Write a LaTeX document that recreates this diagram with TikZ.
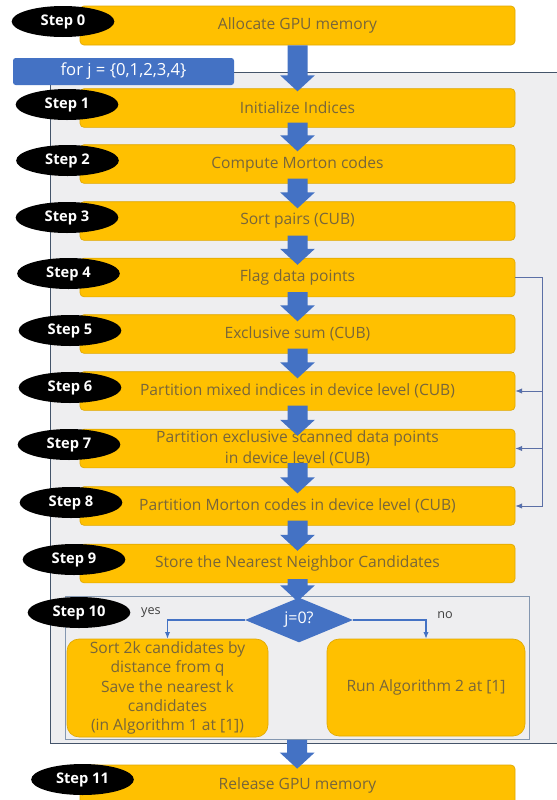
\documentclass[tikz,border=0pt]{standalone}
\usepackage{fontspec}
\setmainfont{Open Sans}
\usetikzlibrary{arrows.meta,calc,shapes.geometric}
\definecolor{gold}{HTML}{FFC000}
\definecolor{goldline}{HTML}{E0A800}
\definecolor{goldtext}{RGB}{120,102,58}
\definecolor{officeblue}{HTML}{4472C4}
\definecolor{loopgray}{HTML}{EEEEF0}
\definecolor{loopline}{HTML}{44546A}
\definecolor{innerline}{HTML}{8497B0}
\definecolor{fbline}{HTML}{5B6FA6}
\newcommand{\blockarr}[2]{%
  \fill[officeblue] let \p1=#1, \p2=#2 in
    (\x1-7.5pt,\y1) -- (\x1+7.5pt,\y1) -- (\x1+7.5pt,\y2+12pt) -- (\x1+13pt,\y2+12pt)
    -- (\x1,\y2) -- (\x1-13pt,\y2+12pt) -- (\x1-7.5pt,\y2+12pt) -- cycle;}
\begin{document}
\begin{tikzpicture}[x=0.75pt,y=-0.75pt,
  every node/.style={inner sep=0pt},
  bar/.style={draw=goldline, line width=0.5pt, fill=gold, rounded corners=3pt,
    minimum width=326.25pt, minimum height=29pt, text=goldtext, align=center,
    font=\fontsize{11.7}{15.5}\selectfont},
  stepl/.style={ellipse, fill=black, minimum width=77pt, minimum height=23.25pt,
    text=white, font=\fontsize{11}{13}\selectfont\bfseries},
  rbox/.style={draw=goldline, line width=0.5pt, fill=gold, rounded corners=9pt,
    text=goldtext, align=center, font=\fontsize{11.7}{14.5}\selectfont},
  forbox/.style={fill=officeblue, rounded corners=2pt, minimum width=165.75pt,
    minimum height=20.25pt, text=white, font=\fontsize{12.5}{15}\selectfont},
  decision/.style={diamond, fill=officeblue, minimum width=81pt, minimum height=33pt,
    text=white, font=\fontsize{12}{14}\selectfont},
  ynline/.style={draw=officeblue, line width=0.8pt, -{Latex[length=5pt,width=4pt]}},
  fb/.style={draw=fbline, line width=0.7pt, -{Latex[length=5pt,width=4pt,fill=officeblue]}},
  lbl/.style={text=black!75, font=\fontsize{9.5}{11}\selectfont}
]
\useasboundingbox (0,0) rectangle (557,800);
\fill[white] (0,0) rectangle (557,800);

% loop region
\fill[loopgray] (50,72) rectangle (557,743);
\draw[loopline, line width=0.6pt] (234,72) -- (557,72);
\draw[loopline, line width=0.6pt] (50,85) -- (50,743) -- (557,743);
\node[forbox] (fj) at (123.5,71.5) {for j = \{0,1,2,3,4\}};

% bars
\node[bar, minimum height=29.25pt] (s0) at (297.5,25.5) {Allocate GPU memory};
\node[bar] (s1) at (297.5,108) {Initialize Indices};
\node[bar] (s2) at (297.5,164) {Compute Morton codes};
\node[bar] (s3) at (297.5,221) {Sort pairs (CUB)};
\node[bar] (s4) at (297.5,277.5) {Flag data points};
\node[bar] (s5) at (297.5,334) {Exclusive sum (CUB)};
\node[bar] (s6) at (297.5,391) {Partition mixed indices in device level (CUB)};
\node[bar] (s7) at (297.5,448.5) {Partition exclusive scanned data points\\in device level (CUB)};
\node[bar] (s8) at (297.5,506) {Partition Morton codes in device level (CUB)};
\node[bar] (s9) at (297.5,563.5) {Store the Nearest Neighbor Candidates};
\node[bar, minimum height=30pt] (s11) at (297.5,785) {Release GPU memory};

% step 10 block
\node[draw=innerline, fill=loopgray, line width=0.7pt, minimum width=348.2pt,
  minimum height=107.5pt] (ib) at (297.2,667.7) {};
\node[rbox, minimum width=150.75pt, minimum height=73.5pt] (lb) at (167.5,688)
  {Sort 2k candidates by\\distance from q\\Save the nearest k\\candidates\\(in Algorithm 1 at [1])};
\node[rbox, minimum width=148.5pt, minimum height=72.75pt] (rb) at (426,687.5)
  {Run Algorithm 2 at [1]};
\node[decision] (dm) at (299,620) {j=0?};
\draw[ynline] (dm.west) -| (lb.north);
\draw[ynline] (dm.east) -| (rb.north);
\node[lbl] (yes) at (151,613) {yes};
\node[lbl] (no) at (445,615) {no};

% step labels
\node[stepl] (e0) at (63,21.5) {Step 0};
\node[stepl] (e1) at (67,104.5) {Step 1};
\node[stepl] (e2) at (67.5,160.5) {Step 2};
\node[stepl] (e3) at (67,217.5) {Step 3};
\node[stepl] (e4) at (68.5,273.5) {Step 4};
\node[stepl] (e5) at (70,330.5) {Step 5};
\node[stepl] (e6) at (70,387.5) {Step 6};
\node[stepl] (e7) at (69,444.5) {Step 7};
\node[stepl] (e8) at (71,502.5) {Step 8};
\node[stepl] (e9) at (74,559.5) {Step 9};
\node[stepl] (e10) at (79,612.5) {Step 10};
\node[stepl] (e11) at (82.5,779.5) {Step 11};

% feedback connector
\coordinate (r4) at ($(s4.east)+(27,0)$);
\draw[fb] (s4.east) -- (r4) |- (s8.east);
\draw[fb] (r4 |- s6.east) -- (s6.east);
\draw[fb] (r4 |- s7.east) -- (s7.east);

% block arrows
\blockarr{(s0.south)}{($(s1.north)+(0,3)$)}
\blockarr{($(s1.south)+(0,-5)$)}{($(s2.north)+(0,7)$)}
\blockarr{($(s2.south)+(0,-5)$)}{($(s3.north)+(0,7)$)}
\blockarr{($(s3.south)+(0,-5)$)}{($(s4.north)+(0,7)$)}
\blockarr{($(s4.south)+(0,-5)$)}{($(s5.north)+(0,7)$)}
\blockarr{($(s5.south)+(0,-5)$)}{($(s6.north)+(0,7)$)}
\blockarr{($(s6.south)+(0,-5)$)}{($(s7.north)+(0,7)$)}
\blockarr{($(s7.south)+(0,-5)$)}{($(s8.north)+(0,7)$)}
\blockarr{($(s8.south)+(0,-5)$)}{($(s9.north)+(0,7)$)}
\blockarr{($(s9.south)+(0,-4)$)}{($(dm.north)+(0,4)$)}
\blockarr{(ib.south)}{($(s11.north)+(0,4)$)}
\end{tikzpicture}
\end{document}
